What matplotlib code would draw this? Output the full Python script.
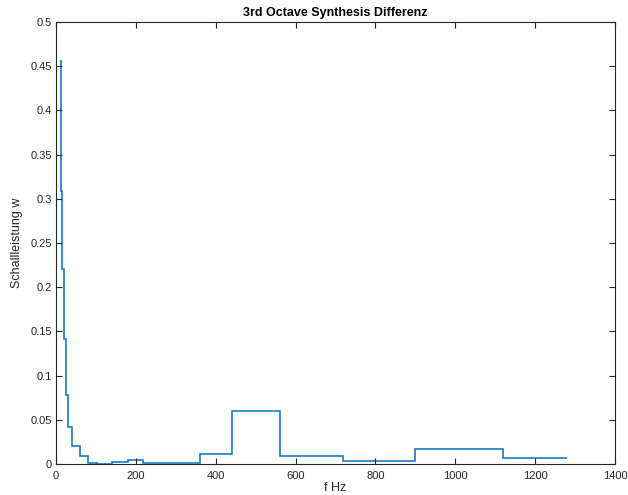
import numpy as np
import matplotlib.pyplot as plt

# band edges (Hz) and level per band
edges = [10, 12.5, 16, 20, 24, 31, 39, 60, 81, 102, 140, 180, 218,
         360, 440, 560, 720, 900, 1120, 1280]
levels = [0.456, 0.309, 0.221, 0.141, 0.078, 0.042, 0.020, 0.009, 0.001,
          0.0005, 0.002, 0.004, 0.0015, 0.011, 0.060, 0.009, 0.0035,
          0.017, 0.0068]

xticks = [0, 200, 400, 600, 800, 1000, 1200, 1400]
yticks = [0, 0.05, 0.1, 0.15, 0.2, 0.25, 0.3, 0.35, 0.4, 0.45, 0.5]
ytick_labels = ["0", "0.05", "0.1", "0.15", "0.2", "0.25", "0.3", "0.35",
                "0.4", "0.45", "0.5"]

plt.rcParams['font.family'] = ['Liberation Sans', 'DejaVu Sans']

fig = plt.figure(figsize=(6.28, 4.95), dpi=100)
ax = fig.add_axes([56/628, 31/495, 559/628, 442/495])

ax.stairs(levels, edges, baseline=None, color='#0072BD', linewidth=1.1)

ax.set_xlim(0, 1400)
ax.set_ylim(0, 0.5)
ax.set_xticks(xticks)
ax.set_yticks(yticks)
ax.set_yticklabels(ytick_labels)

axcol = '#262626'
for s in ax.spines.values():
    s.set_color(axcol)
    s.set_linewidth(0.8)
ax.tick_params(direction='in', top=True, right=True, length=4,
               labelsize=8, colors=axcol, pad=3)
ax.tick_params(axis='x', pad=5)

ax.set_xlabel('f Hz', fontsize=9, color=axcol, labelpad=1)
ax.set_ylabel('Schallleistung w', fontsize=9, color=axcol, labelpad=5)
ax.set_title('3rd Octave Synthesis Differenz', fontsize=9,
             fontweight='bold', pad=4)

fig.savefig('out.png', dpi=100)
